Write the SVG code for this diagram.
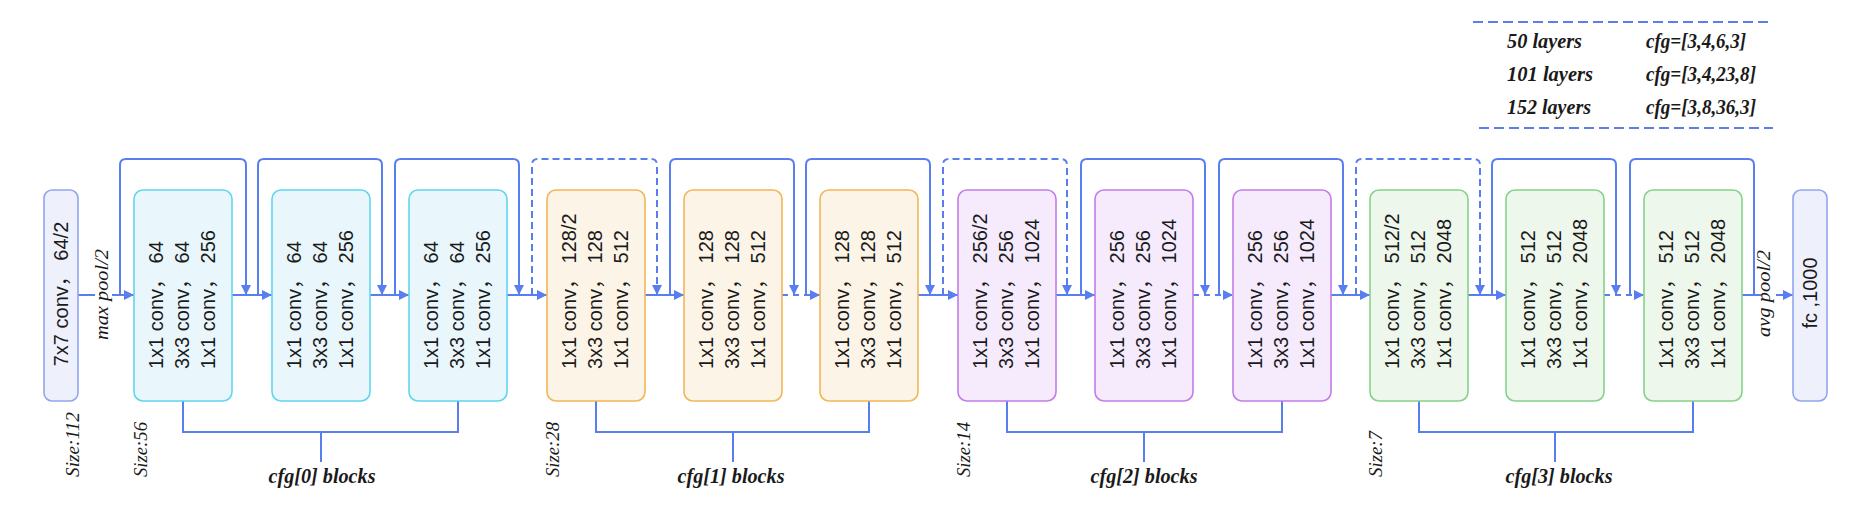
<svg xmlns="http://www.w3.org/2000/svg" width="1864" height="521" viewBox="0 0 1864 521">
<defs>
<marker id="ah" markerWidth="11" markerHeight="11" refX="10" refY="5" orient="auto" markerUnits="userSpaceOnUse">
<path d="M0,0 L10,5 L0,10 Z" fill="#587ef0"/>
</marker>
</defs>
<style>
.bg{fill:#ffffff}
.blk rect{stroke-width:1.6}
.blk text,.io text{font-family:"Liberation Sans","Noto Sans CJK SC",sans-serif;font-size:20px;fill:#1a1a1a}
.io rect{fill:#eef0fc;stroke:#8fa6f0;stroke-width:1.6}
.c0 rect{fill:#e9f6fc;stroke:#62d5ee}
.c1 rect{fill:#fdf4e8;stroke:#f2b656}
.c2 rect{fill:#f5ebfd;stroke:#c27de9}
.c3 rect{fill:#eef7ec;stroke:#86d18b}
.ln{fill:none;stroke:#587ef0;stroke-width:2}
.dl{stroke-dasharray:7 4}
.dm{stroke-dasharray:6 5}
.lab{font-family:"Liberation Serif",serif;font-style:italic;fill:#1a1a1a}
.sz{font-size:18px}
.cb{font-size:20px;font-weight:bold}
.lg{font-size:20px;font-weight:bold}
.pl{font-size:18px}
</style>
<rect class="bg" x="0" y="0" width="1864" height="521"/>

<g id="connectors">
<path class="ln" d="M78,295 H95"/>
<path class="ln" d="M112,295 H134" marker-end="url(#ah)"/>
<path class="ln" d="M232,295 H272" marker-end="url(#ah)"/>
<path class="ln" d="M370,295 H409" marker-end="url(#ah)"/>
<path class="ln" d="M507,295 H547" marker-end="url(#ah)"/>
<path class="ln" d="M645,295 H684" marker-end="url(#ah)"/>
<path class="ln dm" d="M782,295 H820" marker-end="url(#ah)"/>
<path class="ln" d="M918,295 H958" marker-end="url(#ah)"/>
<path class="ln" d="M1056,295 H1095" marker-end="url(#ah)"/>
<path class="ln dm" d="M1193,295 H1233" marker-end="url(#ah)"/>
<path class="ln" d="M1331,295 H1370" marker-end="url(#ah)"/>
<path class="ln" d="M1468,295 H1506" marker-end="url(#ah)"/>
<path class="ln dm" d="M1604,295 H1644" marker-end="url(#ah)"/>
<path class="ln" d="M1742,295 H1761"/>
<path class="ln" d="M1776,295 H1793" marker-end="url(#ah)"/>

<path class="ln" d="M120,295 V165 Q120,159 126,159 H240 Q246,159 246,165 V295" marker-end="url(#ah)"/>
<path class="ln" d="M258,295 V165 Q258,159 264,159 H376 Q382,159 382,165 V295" marker-end="url(#ah)"/>
<path class="ln" d="M395,295 V165 Q395,159 401,159 H513 Q519,159 519,165 V295" marker-end="url(#ah)"/>
<path class="ln dl" d="M532,295 V165 Q532,159 538,159 H651 Q657,159 657,165 V295" marker-end="url(#ah)"/>
<path class="ln" d="M670,295 V165 Q670,159 676,159 H788 Q794,159 794,165 V295" marker-end="url(#ah)"/>
<path class="ln" d="M806,295 V165 Q806,159 812,159 H924 Q930,159 930,165 V295" marker-end="url(#ah)"/>
<path class="ln dl" d="M943,295 V165 Q943,159 949,159 H1061 Q1067,159 1067,165 V295" marker-end="url(#ah)"/>
<path class="ln" d="M1081,295 V165 Q1081,159 1087,159 H1199 Q1205,159 1205,165 V295" marker-end="url(#ah)"/>
<path class="ln" d="M1219,295 V165 Q1219,159 1225,159 H1337 Q1343,159 1343,165 V295" marker-end="url(#ah)"/>
<path class="ln dl" d="M1356,295 V165 Q1356,159 1362,159 H1474 Q1480,159 1480,165 V295" marker-end="url(#ah)"/>
<path class="ln" d="M1492,295 V165 Q1492,159 1498,159 H1610 Q1616,159 1616,165 V295" marker-end="url(#ah)"/>
<path class="ln" d="M1630,295 V165 Q1630,159 1636,159 H1748 Q1754,159 1754,165 V295"/>

<path class="ln" d="M183,401 V432 H458 V401 M321,432 V462"/>
<path class="ln" d="M596,401 V432 H869 V401 M733,432 V462"/>
<path class="ln" d="M1007,401 V432 H1282 V401 M1144,432 V462"/>
<path class="ln" d="M1419,401 V432 H1693 V401 M1555,432 V462"/>

<path class="ln" d="M1473,22 H1768" stroke-dasharray="10 5"/>
<path class="ln" d="M1479,128 H1773" stroke-dasharray="10 5"/>
</g>

<g id="conv1" class="io">
<rect x="44" y="190" width="34" height="211" rx="8"/>
<text transform="translate(68,294) rotate(-90)" text-anchor="middle">7x7 conv，&#160;64/2</text>
</g>

<g id="b1" class="blk c0" transform="translate(134,0)">
<rect x="0" y="190" width="98" height="211" rx="9"/>
<text transform="translate(29,369) rotate(-90)">1x1 conv，&#160;64</text>
<text transform="translate(55,369) rotate(-90)">3x3 conv，&#160;64</text>
<text transform="translate(81,369) rotate(-90)">1x1 conv，&#160;256</text>
</g>
<g id="b2" class="blk c0" transform="translate(272,0)">
<rect x="0" y="190" width="98" height="211" rx="9"/>
<text transform="translate(29,369) rotate(-90)">1x1 conv，&#160;64</text>
<text transform="translate(55,369) rotate(-90)">3x3 conv，&#160;64</text>
<text transform="translate(81,369) rotate(-90)">1x1 conv，&#160;256</text>
</g>
<g id="b3" class="blk c0" transform="translate(409,0)">
<rect x="0" y="190" width="98" height="211" rx="9"/>
<text transform="translate(29,369) rotate(-90)">1x1 conv，&#160;64</text>
<text transform="translate(55,369) rotate(-90)">3x3 conv，&#160;64</text>
<text transform="translate(81,369) rotate(-90)">1x1 conv，&#160;256</text>
</g>

<g id="b4" class="blk c1" transform="translate(547,0)">
<rect x="0" y="190" width="98" height="211" rx="9"/>
<text transform="translate(29,369) rotate(-90)">1x1 conv，&#160;128/2</text>
<text transform="translate(55,369) rotate(-90)">3x3 conv，&#160;128</text>
<text transform="translate(81,369) rotate(-90)">1x1 conv，&#160;512</text>
</g>
<g id="b5" class="blk c1" transform="translate(684,0)">
<rect x="0" y="190" width="98" height="211" rx="9"/>
<text transform="translate(29,369) rotate(-90)">1x1 conv，&#160;128</text>
<text transform="translate(55,369) rotate(-90)">3x3 conv，&#160;128</text>
<text transform="translate(81,369) rotate(-90)">1x1 conv，&#160;512</text>
</g>
<g id="b6" class="blk c1" transform="translate(820,0)">
<rect x="0" y="190" width="98" height="211" rx="9"/>
<text transform="translate(29,369) rotate(-90)">1x1 conv，&#160;128</text>
<text transform="translate(55,369) rotate(-90)">3x3 conv，&#160;128</text>
<text transform="translate(81,369) rotate(-90)">1x1 conv，&#160;512</text>
</g>

<g id="b7" class="blk c2" transform="translate(958,0)">
<rect x="0" y="190" width="98" height="211" rx="9"/>
<text transform="translate(29,369) rotate(-90)">1x1 conv，&#160;256/2</text>
<text transform="translate(55,369) rotate(-90)">3x3 conv，&#160;256</text>
<text transform="translate(81,369) rotate(-90)">1x1 conv，&#160;1024</text>
</g>
<g id="b8" class="blk c2" transform="translate(1095,0)">
<rect x="0" y="190" width="98" height="211" rx="9"/>
<text transform="translate(29,369) rotate(-90)">1x1 conv，&#160;256</text>
<text transform="translate(55,369) rotate(-90)">3x3 conv，&#160;256</text>
<text transform="translate(81,369) rotate(-90)">1x1 conv，&#160;1024</text>
</g>
<g id="b9" class="blk c2" transform="translate(1233,0)">
<rect x="0" y="190" width="98" height="211" rx="9"/>
<text transform="translate(29,369) rotate(-90)">1x1 conv，&#160;256</text>
<text transform="translate(55,369) rotate(-90)">3x3 conv，&#160;256</text>
<text transform="translate(81,369) rotate(-90)">1x1 conv，&#160;1024</text>
</g>

<g id="b10" class="blk c3" transform="translate(1370,0)">
<rect x="0" y="190" width="98" height="211" rx="9"/>
<text transform="translate(29,369) rotate(-90)">1x1 conv，&#160;512/2</text>
<text transform="translate(55,369) rotate(-90)">3x3 conv，&#160;512</text>
<text transform="translate(81,369) rotate(-90)">1x1 conv，&#160;2048</text>
</g>
<g id="b11" class="blk c3" transform="translate(1506,0)">
<rect x="0" y="190" width="98" height="211" rx="9"/>
<text transform="translate(29,369) rotate(-90)">1x1 conv，&#160;512</text>
<text transform="translate(55,369) rotate(-90)">3x3 conv，&#160;512</text>
<text transform="translate(81,369) rotate(-90)">1x1 conv，&#160;2048</text>
</g>
<g id="b12" class="blk c3" transform="translate(1644,0)">
<rect x="0" y="190" width="98" height="211" rx="9"/>
<text transform="translate(29,369) rotate(-90)">1x1 conv，&#160;512</text>
<text transform="translate(55,369) rotate(-90)">3x3 conv，&#160;512</text>
<text transform="translate(81,369) rotate(-90)">1x1 conv，&#160;2048</text>
</g>

<g id="fc" class="io">
<rect x="1793" y="190" width="34" height="211" rx="8"/>
<text transform="translate(1817,293) rotate(-90)" text-anchor="middle">fc ,1000</text>
</g>

<g id="labels" class="lab">
<text class="pl" transform="translate(108,340) rotate(-90)" textLength="91" lengthAdjust="spacingAndGlyphs">max pool/2</text>
<text class="pl" transform="translate(1770,337) rotate(-90)" textLength="87" lengthAdjust="spacingAndGlyphs">avg pool/2</text>
<text class="sz" transform="translate(79,477) rotate(-90)" textLength="65" lengthAdjust="spacingAndGlyphs">Size:112</text>
<text class="sz" transform="translate(147,477) rotate(-90)" textLength="55" lengthAdjust="spacingAndGlyphs">Size:56</text>
<text class="sz" transform="translate(559,477) rotate(-90)" textLength="55" lengthAdjust="spacingAndGlyphs">Size:28</text>
<text class="sz" transform="translate(970,477) rotate(-90)" textLength="55" lengthAdjust="spacingAndGlyphs">Size:14</text>
<text class="sz" transform="translate(1382,477) rotate(-90)" textLength="46" lengthAdjust="spacingAndGlyphs">Size:7</text>
<text class="cb" x="322" y="483" text-anchor="middle" textLength="107" lengthAdjust="spacingAndGlyphs">cfg[0] blocks</text>
<text class="cb" x="731" y="483" text-anchor="middle" textLength="107" lengthAdjust="spacingAndGlyphs">cfg[1] blocks</text>
<text class="cb" x="1144" y="483" text-anchor="middle" textLength="107" lengthAdjust="spacingAndGlyphs">cfg[2] blocks</text>
<text class="cb" x="1559" y="483" text-anchor="middle" textLength="107" lengthAdjust="spacingAndGlyphs">cfg[3] blocks</text>
</g>

<g id="legend" class="lab">
<text class="lg" x="1507" y="48" textLength="75" lengthAdjust="spacingAndGlyphs">50 layers</text>
<text class="lg" x="1646" y="48" textLength="100" lengthAdjust="spacingAndGlyphs">cfg=[3,4,6,3]</text>
<text class="lg" x="1507" y="81" textLength="86" lengthAdjust="spacingAndGlyphs">101 layers</text>
<text class="lg" x="1646" y="81" textLength="110" lengthAdjust="spacingAndGlyphs">cfg=[3,4,23,8]</text>
<text class="lg" x="1507" y="114" textLength="84" lengthAdjust="spacingAndGlyphs">152 layers</text>
<text class="lg" x="1646" y="114" textLength="110" lengthAdjust="spacingAndGlyphs">cfg=[3,8,36,3]</text>
</g>
</svg>
